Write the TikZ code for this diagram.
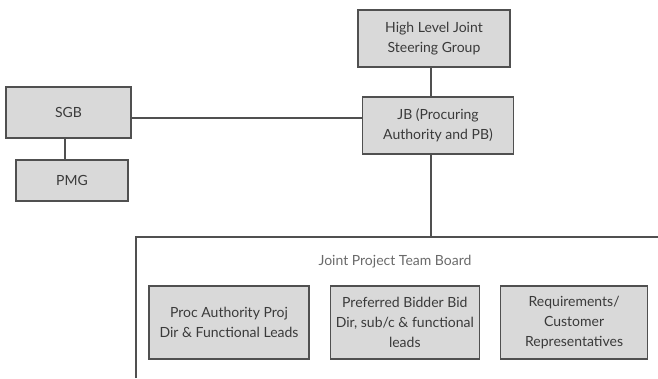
\documentclass[tikz,border=0pt]{standalone}
\usepackage{fontspec}
\setmainfont{Lato}
\usepackage{tikz}
\usetikzlibrary{positioning}
\definecolor{oFill}{HTML}{D9D9D9}
\definecolor{oEdge}{HTML}{505050}
\definecolor{oText}{HTML}{3A3A3A}
\tikzstyle{oBox} = [rectangle, draw=oEdge, fill=oFill, line width=1.3pt, text=oText, align=center, inner sep=0pt, font=\fontsize{14}{20}\selectfont]
\tikzstyle{oLine} = [draw=oEdge, line width=1.3pt]
\tikzstyle{oTitle} = [text=oEdge!85, font=\fontsize{14}{16}\selectfont]

\begin{document}
\begin{tikzpicture}[x=1pt, y=-1pt, node distance=10pt]
    \useasboundingbox (0,0) rectangle (658,378);
    \node (hljsg) [oBox, minimum width=152pt, minimum height=57pt] at (434,38.5) {High Level Joint\\Steering Group};
    \node (jb) [oBox, minimum width=151pt, minimum height=57pt] at (438,125.5) {JB (Procuring\\Authority and PB)};
    \node (sgb) [oBox, minimum width=125pt, minimum height=51pt] at (68.5,112.5) {SGB};
    \node (pmg) [oBox, minimum width=112pt, minimum height=41pt] at (72,180.5) {PMG};
    \node (jptb) [oTitle] at (395,262) {Joint Project Team Board};
    \node (proc) [oBox, minimum width=160pt, minimum height=73pt] at (229,322.5) {Proc Authority Proj\\Dir \& Functional Leads};
    \node (bidder) [oBox, minimum width=149pt, minimum height=73pt, right=20pt of proc] {Preferred Bidder Bid\\Dir, sub/c \& functional\\leads};
    \node (reqs) [oBox, minimum width=147pt, minimum height=73pt, right=20pt of bidder] {Requirements/\\Customer\\Representatives};
    \coordinate (frameTop) at (431,237);
    \coordinate (frameLeft) at (136,237);

    \draw [oLine] (hljsg.south -| frameTop) -- (jb.north -| frameTop);
    \draw [oLine] (sgb.east |- 0,118) -- (jb.west |- 0,118);
    \draw [oLine] (sgb.south -| 65,0) -- (pmg.north -| 65,0);
    \draw [oLine] (jb.south -| frameTop) -- (frameTop);
    \draw [oLine] (136,378) -- (frameLeft) -- (658,237);
\end{tikzpicture}
\end{document}
